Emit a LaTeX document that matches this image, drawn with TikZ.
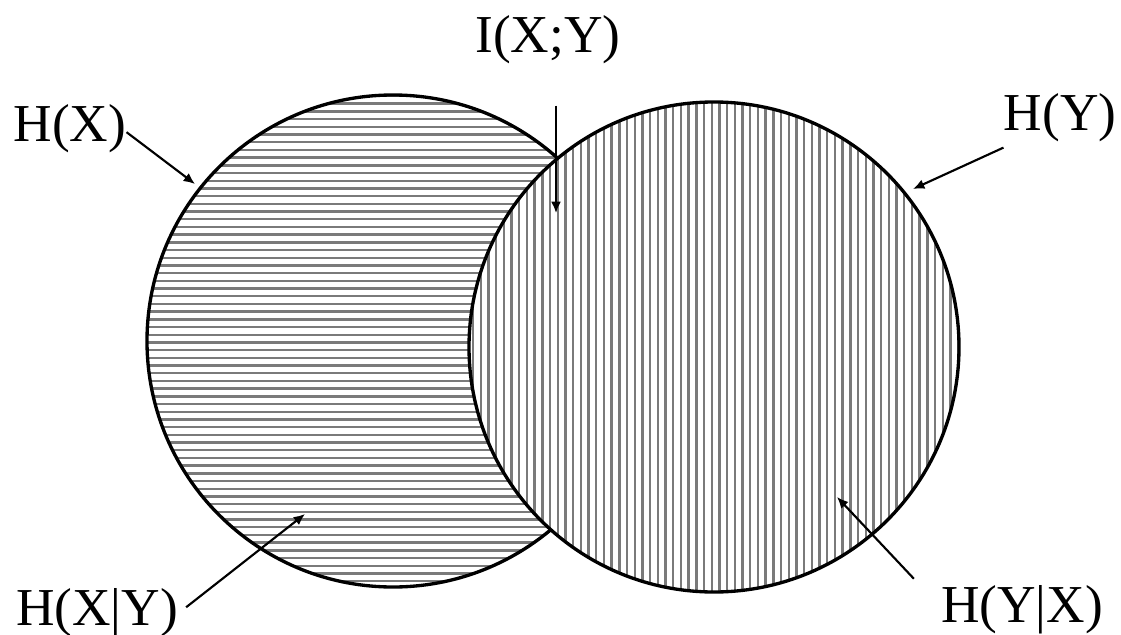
\documentclass[tikz,border=0pt]{standalone}
\usepackage{fontspec}
\setmainfont{Liberation Serif}
\usetikzlibrary{arrows.meta, calc}
\definecolor{HatchGray}{HTML}{7A7A7A}

\begin{document}
\begin{tikzpicture}[
    x=0.75pt,
    y=-0.75pt,
    >=Latex,
    every node/.style={inner sep=0pt, font=\fontsize{40}{48}\selectfont},
    setlabel/.style={anchor=base},
    ring/.style={draw=black, line width=2.5pt},
    hatchline/.style={draw=HatchGray, line width=1.8pt},
    arrowline/.style={-{Latex[length=8.5pt, width=7.5pt]}, line width=1.6pt}
]

\useasboundingbox (0,0) rectangle (1121,635);

% left set, horizontal hatching
\begin{scope}
    \clip (393,341) circle[radius=184.5pt];
    \foreach \yy in {96,103.7,...,592}
        \draw[hatchline] (140,\yy) -- (645,\yy);
\end{scope}
\draw[ring] (393,341) circle[radius=184.5pt];

% right set lies on top, vertical hatching
\fill[white] (714,347) circle[radius=183.75pt];
\begin{scope}
    \clip (714,347) circle[radius=183.75pt];
    \foreach \xx in {473,480.7,...,962}
        \draw[hatchline] (\xx,95) -- (\xx,600);
\end{scope}
\draw[ring] (714,347) circle[radius=183.75pt];

% labels
\node[setlabel] (ixy) at (548,53) {I(X;Y)};
\node[setlabel] (hx) at (70,142) {H(X)};
\node[setlabel] (hy) at (1060,130) {H(Y)};
\node[setlabel] (hxy) at (97,625) {H(X|Y)};
\node[setlabel] (hyx) at (1022,622) {H(Y|X)};

% arrow tips
\coordinate (ixytip) at (556,213);
\coordinate (hxtip) at (195,184);
\coordinate (hytip) at (913,189);
\coordinate (hxytip) at (305,514);
\coordinate (hyxtip) at (837,497);

\draw[arrowline] ($(ixy.south -| ixytip)+(0,41)$) -- (ixytip);
\draw[arrowline] ([shift={(0,3)}]hx.east) -- (hxtip);
\draw[arrowline] ([shift={(0,6)}]hy.south west) -- (hytip);
\draw[arrowline] ([shift={(8,-5)}]hxy.east) -- (hxytip);
\draw[arrowline] ([shift={(-27,-6)}]hyx.north west) -- (hyxtip);

\end{tikzpicture}
\end{document}
